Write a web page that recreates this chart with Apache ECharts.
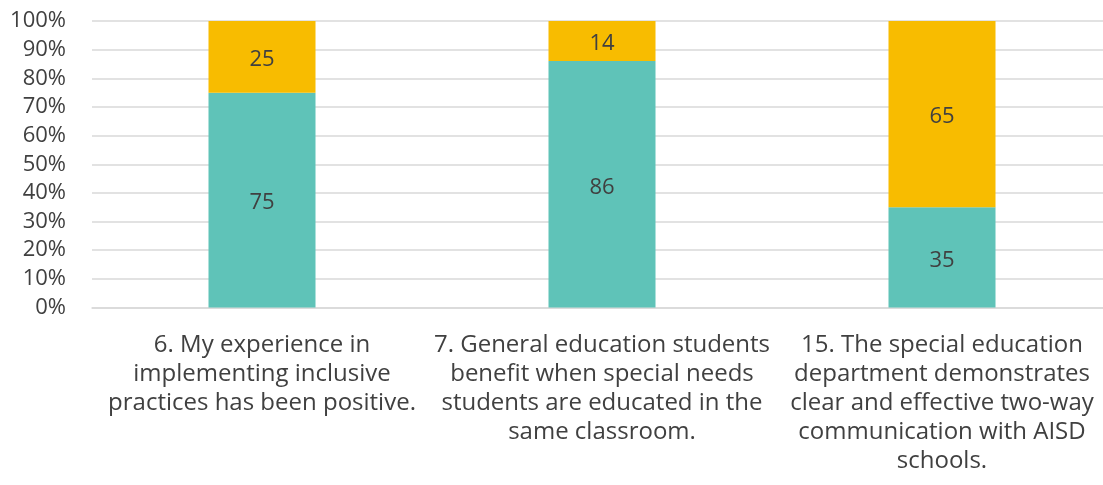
<!DOCTYPE html>
<html><head><meta charset="utf-8">
<script src="https://cdn.jsdelivr.net/npm/echarts@6/dist/echarts.min.js"></script>
<style>html,body{margin:0;padding:0;background:#fff}#c{width:1103px;height:485px}</style>
</head><body><div id="c"></div>
<script>
const categories = [
  "6. My experience in\nimplementing inclusive\npractices has been positive.",
  "7. General education students\nbenefit when special needs\nstudents are educated in the\nsame classroom.",
  "15. The special education\ndepartment demonstrates\nclear and effective two-way\ncommunication with AISD\nschools."
];
const agree = [75, 86, 35];
const disagree = [25, 14, 65];
const yTicks = [0, 10, 20, 30, 40, 50, 60, 70, 80, 90, 100];

const chart = echarts.init(document.getElementById('c'), null, {renderer: 'canvas'});
const font = '"Open Sans", "Noto Sans", sans-serif';
const lbl = {show: true, position: 'inside', color: '#404040', fontSize: 22, fontFamily: font, offset: [0, 3]};
chart.setOption({
  animation: false,
  grid: {left: 92, top: 21, width: 1020, height: 286.5, containLabel: false, outerBoundsMode: 'none'},
  xAxis: {
    type: 'category', data: categories,
    axisLine: {show: true, lineStyle: {color: '#d9d9d9', width: 1.5}},
    axisTick: {show: false},
    axisLabel: {color: '#404040', fontSize: 24, fontFamily: font, lineHeight: 29, margin: 23, interval: 0, align: 'center'}
  },
  yAxis: {
    type: 'value', min: 0, max: 100, interval: 10,
    axisLine: {show: false}, axisTick: {show: false},
    splitLine: {lineStyle: {color: '#d9d9d9', width: 1.5}},
    axisLabel: {color: '#404040', fontSize: 22, fontFamily: font, margin: 26,
      formatter: v => yTicks.includes(v) ? v + '%' : ''}
  },
  series: [
    {type: 'bar', stack: 's', data: agree, barWidth: 107, itemStyle: {color: '#5fc3b8'}, label: lbl},
    {type: 'bar', stack: 's', data: disagree, barWidth: 107, itemStyle: {color: '#f8bc00'}, label: lbl}
  ]
});
</script></body></html>
